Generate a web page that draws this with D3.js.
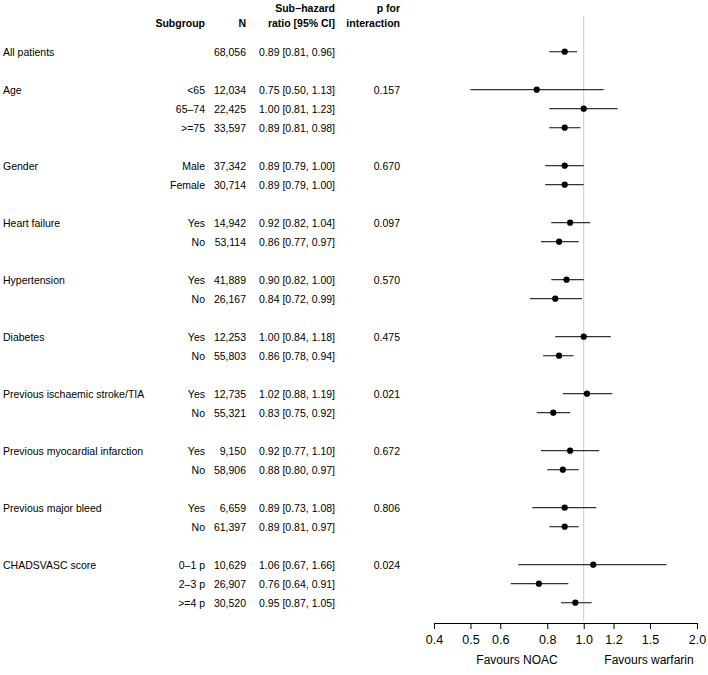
<!DOCTYPE html>
<html><head><meta charset="utf-8">
<script src="https://cdn.jsdelivr.net/npm/d3@7"></script>
<style>body{margin:0;background:#fff}svg{display:block}text{font-family:"Liberation Sans",Arial,sans-serif;fill:#000}</style>
</head><body>
<svg id="c" width="708" height="675"></svg>
<script>
// rows: group label, subgroup label, N, HR, lo, hi, p
const groups    = ["All patients","","Age","","","","Gender","","","Heart failure","","","Hypertension","","","Diabetes","","","Previous ischaemic stroke/TIA","","","Previous myocardial infarction","","","Previous major bleed","","","CHADSVASC score","",""];
const subgroups = ["","","<65","65\u201374",">=75","","Male","Female","","Yes","No","","Yes","No","","Yes","No","","Yes","No","","Yes","No","","Yes","No","","0\u20131 p","2\u20133 p",">=4 p"];
const nValues   = ["68,056","","12,034","22,425","33,597","","37,342","30,714","","14,942","53,114","","41,889","26,167","","12,253","55,803","","12,735","55,321","","9,150","58,906","","6,659","61,397","","10,629","26,907","30,520"];
const hr        = [0.89,null,0.75,1.00,0.89,null,0.89,0.89,null,0.92,0.86,null,0.90,0.84,null,1.00,0.86,null,1.02,0.83,null,0.92,0.88,null,0.89,0.89,null,1.06,0.76,0.95];
const lo        = [0.81,null,0.50,0.81,0.81,null,0.79,0.79,null,0.82,0.77,null,0.82,0.72,null,0.84,0.78,null,0.88,0.75,null,0.77,0.80,null,0.73,0.81,null,0.67,0.64,0.87];
const hi        = [0.96,null,1.13,1.23,0.98,null,1.00,1.00,null,1.04,0.97,null,1.00,0.99,null,1.18,0.94,null,1.19,0.92,null,1.10,0.97,null,1.08,0.97,null,1.66,0.91,1.05];
const pValues   = ["","","0.157","","","","0.670","","","0.097","","","0.570","","","0.475","","","0.021","","","0.672","","","0.806","","","0.024","",""];
const tickValues = [0.4,0.5,0.6,0.8,1.0,1.2,1.5,2.0];
const tickLabels = ["0.4","0.5","0.6","0.8","1.0","1.2","1.5","2.0"];

const svg = d3.select("#c");
const x = d3.scaleLog().domain([0.4,2.0]).range([434,697]);
const y = d3.scaleLinear().domain([0,29]).range([51.7,602.7]);
const fs = "10.5px";

// header
const hdr = svg.append("g").attr("font-weight","bold").attr("font-size",fs).attr("text-anchor","end");
hdr.append("text").attr("x",205).attr("y",27).text("Subgroup");
hdr.append("text").attr("x",246).attr("y",27).text("N");
hdr.append("text").attr("x",335).attr("y",12).text("Sub\u2212hazard");
hdr.append("text").attr("x",335).attr("y",27).text("ratio [95% CI]");
hdr.append("text").attr("x",400).attr("y",12).text("p for");
hdr.append("text").attr("x",400).attr("y",27).text("interaction");

const idx = d3.range(groups.length);
const tbl = svg.append("g").attr("font-size",fs);
const fmt = d3.format(".2f");
idx.forEach(i=>{
  const yy = y(i)+3.8;
  if(groups[i]) tbl.append("text").attr("x",3).attr("y",yy).text(groups[i]);
  if(subgroups[i]) tbl.append("text").attr("x",205).attr("y",yy).attr("text-anchor","end").text(subgroups[i]);
  if(nValues[i]) tbl.append("text").attr("x",246).attr("y",yy).attr("text-anchor","end").text(nValues[i]);
  if(hr[i]!=null) tbl.append("text").attr("x",335).attr("y",yy).attr("text-anchor","end").text(`${fmt(hr[i])} [${fmt(lo[i])}, ${fmt(hi[i])}]`);
  if(pValues[i]) tbl.append("text").attr("x",400).attr("y",yy).attr("text-anchor","end").text(pValues[i]);
});

// reference line
svg.append("line").attr("x1",x(1)).attr("x2",x(1)).attr("y1",16).attr("y2",621)
  .attr("stroke","#c8c8c8").attr("stroke-width",1);

const pts = idx.filter(i=>hr[i]!=null);
svg.append("g").selectAll("line").data(pts).join("line")
  .attr("x1",i=>x(lo[i])).attr("x2",i=>x(hi[i])).attr("y1",i=>y(i)).attr("y2",i=>y(i))
  .attr("stroke","#333").attr("stroke-width",1.2);
svg.append("g").selectAll("circle").data(pts).join("circle")
  .attr("cx",i=>x(hr[i])).attr("cy",i=>y(i)).attr("r",3.1).attr("fill","#000");

// axis
const ax = svg.append("g").attr("transform","translate(0,623)")
  .call(d3.axisBottom(x).tickValues(tickValues).tickFormat((d,i)=>tickLabels[i]).tickSize(6).tickPadding(6).tickSizeOuter(0));
ax.select(".domain").attr("stroke","#000");
ax.selectAll(".tick line").attr("stroke","#000");
ax.selectAll("text").attr("font-size","12.5px").attr("font-family","Liberation Sans, Arial, sans-serif").attr("fill","#000");

svg.append("text").attr("x",517).attr("y",664).attr("text-anchor","middle").attr("font-size","12px").text("Favours NOAC");
svg.append("text").attr("x",649).attr("y",664).attr("text-anchor","middle").attr("font-size","12px").text("Favours warfarin");
</script>
</body></html>
